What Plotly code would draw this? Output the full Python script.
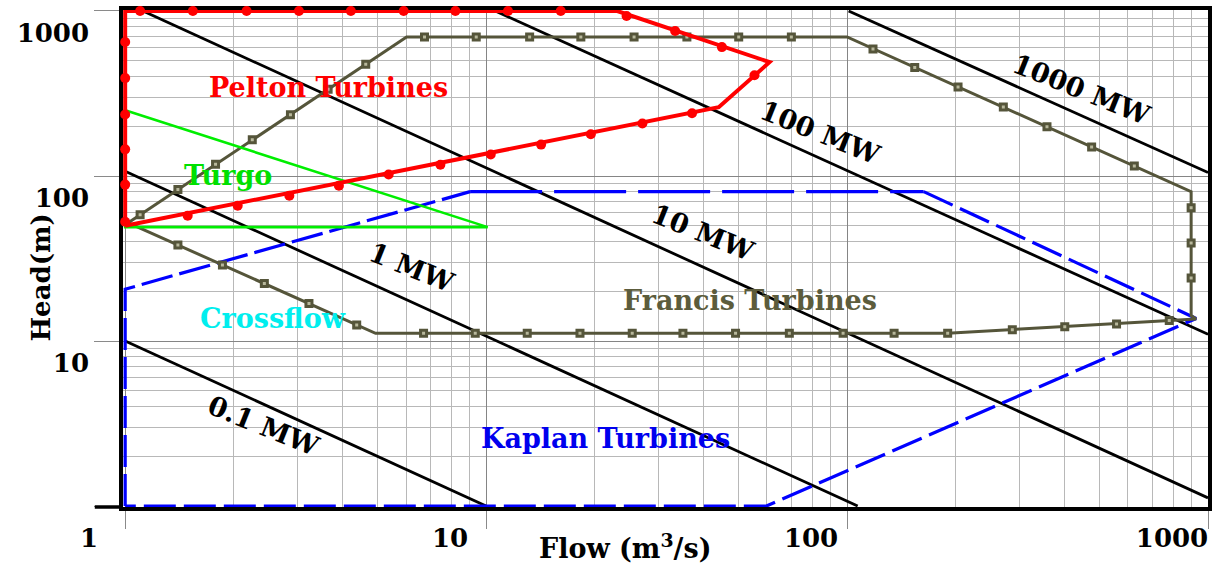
import math
import plotly.graph_objects as go

# ---------------- data ----------------
x_tick_vals = [1, 10, 100, 1000]
x_tick_text = ["1", "10", "100", "1000"]
y_tick_vals = [1, 10, 100, 1000]
y_tick_text = ["", "10", "100", "1000"]   # the shared "1" is drawn once, by the x axis

# Pelton envelope (flow m3/s, head m)
pelton_q = [1, 1, 23.1, 61.0, 44.1, 1]
pelton_h = [50, 1000, 1000, 490, 261, 50]
pelton_marker_q = [1, 1, 1, 1, 1, 1,
                   1.10, 1.54, 2.17, 3.03, 4.22, 5.91, 8.22, 11.5, 16.1,
                   24.5, 33.4, 45.0, 55.4,
                   37.2, 27.1, 19.5, 14.2, 10.3, 7.47, 5.37, 3.91, 2.85, 2.05, 1.49]
pelton_marker_h = [649, 392, 236, 145, 88.7, 52.8,
                   1000, 1000, 1000, 1000, 1000, 1000, 1000, 1000, 1000,
                   933, 757, 604, 408,
                   240, 208, 179, 155, 135, 117, 102, 87.4, 76, 66, 57.4]

# Turgo triangle
turgo_q = [1, 1, 10.1, 1]
turgo_h = [250, 49, 49, 250]

# Francis envelope
francis_q = [1.02, 6.02, 100, 898, 898, 927, 190, 4.94, 1.02]
francis_h = [52, 696, 696, 80.4, 14.3, 13.6, 11.14, 11.14, 52]
francis_marker_q = [1.10, 1.40, 1.78, 2.25, 2.87, 3.65, 4.64,
                    6.75, 9.39, 13.2, 18.3, 25.7, 36.0, 50.1, 70.1,
                    118, 154, 203, 271, 358, 476, 625,
                    898, 898, 898,
                    781, 558, 401, 287,
                    190, 135, 97.5, 69.2, 49.1, 35.1, 25.4, 18.2, 13.0, 9.33, 6.71,
                    4.38, 3.23, 2.43, 1.86, 1.40]
francis_marker_h = [58.2, 82.7, 118, 166, 235, 335, 476,
                    696, 696, 696, 696, 696, 696, 696, 696,
                    588, 455, 346, 262, 199, 150, 115,
                    64.2, 39.3, 24.1,
                    13.3, 12.7, 12.2, 11.7,
                    11.14, 11.14, 11.14, 11.14, 11.14, 11.14, 11.14, 11.14, 11.14, 11.14, 11.14,
                    12.5, 16.9, 22.3, 28.9, 38.2]

# Kaplan envelope
kaplan_q = [1, 1, 9.03, 163, 927, 59.8, 1]
kaplan_h = [1, 20.6, 80.4, 80.4, 13.7, 1, 1]

# constant-power lines
mw_names = ["0.1 MW", "1 MW", "10 MW", "100 MW", "1000 MW"]
mw_q = [[1, 10], [1, 107], [1.12, 1000], [10.6, 1000], [101, 1000]]
mw_h = [[10, 1], [107, 1], [1000, 1.12], [1000, 11.0], [1000, 105]]
mw_label_q = [2.41, 6.22, 39.9, 84.3, 447]
mw_label_h = [3.07, 27.7, 45.2, 184, 336]

# turbine region labels
region_names = ["Pelton Turbines", "Turgo", "Crossflow", "Francis Turbines", "Kaplan Turbines"]
region_q = [3.67, 1.93, 2.56, 53.7, 21.4]
region_h = [345, 100.6, 13.7, 17.7, 2.56]
region_colors = ["#ff0000", "#00e000", "#00eeee", "#5c5c3c", "#0000ee"]

# ---------------- styling ----------------
RED = "#ff0000"
GREEN = "#00ee00"
OLIVE = "#55553a"
BLUE = "#0000ff"
FONT = "DejaVu Serif"

fig = go.Figure()

# power lines
for q, h in zip(mw_q, mw_h):
    fig.add_trace(go.Scatter(x=q, y=h, mode="lines",
                             line=dict(color="black", width=2.8),
                             hoverinfo="skip", showlegend=False))

# Kaplan (dashed)
fig.add_trace(go.Scatter(x=kaplan_q[:3], y=kaplan_h[:3], mode="lines",
                         line=dict(color=BLUE, width=3.2, dash="32px,7px"),
                         showlegend=False))
fig.add_trace(go.Scatter(x=kaplan_q[2:4], y=kaplan_h[2:4], mode="lines",
                         line=dict(color=BLUE, width=3.2, dash="72px,12px"),
                         showlegend=False))
fig.add_trace(go.Scatter(x=kaplan_q[3:], y=kaplan_h[3:], mode="lines",
                         line=dict(color=BLUE, width=3.2, dash="32px,8px"),
                         showlegend=False))

# Francis
fig.add_trace(go.Scatter(x=francis_q, y=francis_h, mode="lines",
                         line=dict(color=OLIVE, width=3),
                         showlegend=False))
fig.add_trace(go.Scatter(x=francis_marker_q, y=francis_marker_h, mode="markers",
                         marker=dict(symbol="square", size=6, color="#b8b89c",
                                     line=dict(color=OLIVE, width=3)),
                         showlegend=False, cliponaxis=False))

# Turgo
fig.add_trace(go.Scatter(x=turgo_q, y=turgo_h, mode="lines",
                         line=dict(color=GREEN, width=2.6),
                         showlegend=False))

# Pelton
fig.add_trace(go.Scatter(x=pelton_q, y=pelton_h, mode="lines",
                         line=dict(color=RED, width=4),
                         showlegend=False))
fig.add_trace(go.Scatter(x=pelton_marker_q, y=pelton_marker_h, mode="markers",
                         marker=dict(symbol="circle", size=10, color=RED),
                         showlegend=False, cliponaxis=False))

annotations = []
for name, q, h, c in zip(region_names, region_q, region_h, region_colors):
    annotations.append(dict(x=math.log10(q), y=math.log10(h), xref="x", yref="y",
                            text=name, showarrow=False,
                            xanchor="center", yanchor="middle",
                            font=dict(family=FONT, size=27, color=c, weight="bold")))
for name, q, h in zip(mw_names, mw_label_q, mw_label_h):
    annotations.append(dict(x=math.log10(q), y=math.log10(h), xref="x", yref="y",
                            text=name, showarrow=False, textangle=22,
                            xanchor="center", yanchor="middle",
                            font=dict(family=FONT, size=27, color="black", weight="bold")))
annotations.append(dict(x=0.4627, y=-0.080, xref="paper", yref="paper",
                        text="Flow (m<sup>3</sup>/s)", showarrow=False,
                        xanchor="center", yanchor="middle",
                        font=dict(family=FONT, size=27, color="black", weight="bold")))
annotations.append(dict(x=-0.0755, y=0.462, xref="paper", yref="paper",
                        text="Head(m)", showarrow=False, textangle=-90,
                        xanchor="center", yanchor="middle",
                        font=dict(family=FONT, size=26, color="black", weight="bold")))

minor_vals = [m * 10 ** d for d in range(3) for m in range(2, 10)]

axis_common = dict(
    type="log",
    showgrid=True, gridcolor="#858585", gridwidth=1,
    minor=dict(tickmode="array", tickvals=minor_vals, showgrid=True,
               gridcolor="#b8b8b8", gridwidth=1.4, ticks=""),
    showline=True, linecolor="black", linewidth=3.5, mirror=True,
    ticks="outside", tickcolor="#8a8a8a", tickwidth=1,
    tickfont=dict(family=FONT, size=26, color="black", weight="bold"),
    zeroline=False, layer="below traces",
)

fig.update_layout(
    width=1213, height=564,
    margin=dict(l=123, r=1, t=10, b=57),
    plot_bgcolor="white", paper_bgcolor="white",
    xaxis=dict(axis_common, tickmode="array", tickvals=x_tick_vals, ticktext=x_tick_text,
               range=[-0.006, 3.0], ticklen=18, ticklabelshift=-36,
               ticklabelstandoff=-13),
    yaxis=dict(axis_common, tickmode="array", tickvals=y_tick_vals, ticktext=y_tick_text,
               range=[-0.006, 3.006], ticklen=25, ticklabelshift=22),
    annotations=annotations,
    shapes=[dict(type="line", xref="paper", yref="paper", x0=-0.026, x1=0, y0=0, y1=0,
                 line=dict(color="black", width=3.5))],
    showlegend=False,
)

fig.write_html("out.html", config={"displayModeBar": False},
               post_script="document.body.style.margin='0';")
